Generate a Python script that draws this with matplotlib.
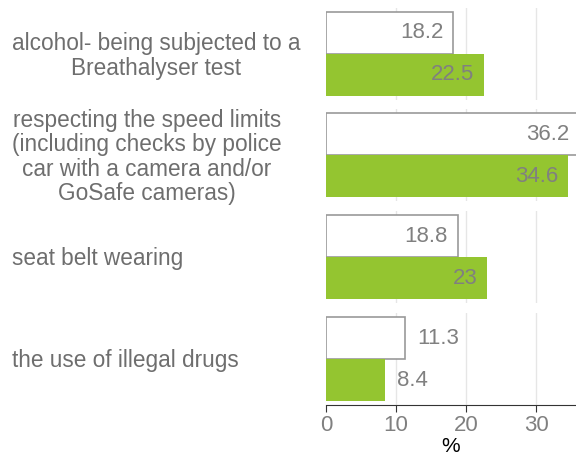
import matplotlib
matplotlib.use("Agg")
import matplotlib.pyplot as plt
import numpy as np

plt.rcParams["font.family"] = ["Liberation Sans", "DejaVu Sans"]

categories = ["alcohol- being subjected to a\nBreathalyser test",
              "respecting the speed limits\n(including checks by police\ncar with a camera and/or\nGoSafe cameras)",
              "seat belt wearing",
              "the use of illegal drugs"]
white_vals = [18.2, 36.2, 18.8, 11.3]
green_vals = [22.5, 34.6, 23, 8.4]
xticks = [0, 10, 20, 30]

W, H = 576, 457
fig = plt.figure(figsize=(W / 100, H / 100), dpi=100)

left = 326 / W
width = 1 - left
panel_h = 92
tops = [8, 109, 211, 313]
txt_grey = "#808080"
green = "#94C530"

axes = []
for i, cat in enumerate(categories):
    bottom = 1 - (tops[i] + panel_h) / H
    ax = fig.add_axes([left, bottom, width, panel_h / H])
    axes.append(ax)
    ax.set_xlim(0, 35.7)
    pad = 4 / 42
    ax.set_ylim(-0.5 - pad, 1.5 + pad)
    for t in xticks[1:]:
        ax.axvline(t, color="#e6e6e6", lw=1, zorder=0)
    ax.barh(1, white_vals[i], height=1.0, color="white", edgecolor="#999999", lw=1.2, zorder=2)
    ax.barh(0, green_vals[i], height=1.0, color=green, edgecolor="none", zorder=2)
    for y, v in [(1, white_vals[i]), (0, green_vals[i])]:
        lab = f"{v:g}"
        if v > 15:
            ax.text(v - 1.4, y, lab, ha="right", va="center", fontsize=16, color=txt_grey, zorder=3)
        else:
            ax.text(v + 1.8, y, lab, ha="left", va="center", fontsize=16, color=txt_grey, zorder=3)
    for s in ax.spines.values():
        s.set_visible(False)
    ax.set_yticks([])
    ax.set_xticks(xticks)
    ax.tick_params(axis="x", length=0, labelbottom=False)
    # category label
    fig.text(12 / W, 1 - (tops[i] + panel_h / 2 + 2) / H, cat, ha="left", va="center",
             ma="center", fontsize=16.3, color="#6e6e6e", linespacing=1.08)

ax = axes[-1]
ax.spines["bottom"].set_visible(True)
ax.spines["bottom"].set_color("#333333")
ax.tick_params(axis="x", length=5, color="#333333", labelbottom=True, labelsize=16,
               labelcolor=txt_grey, pad=2)
ax.set_xlabel("%", fontsize=15, color="black", labelpad=1)

fig.savefig("out.png", dpi=100)
